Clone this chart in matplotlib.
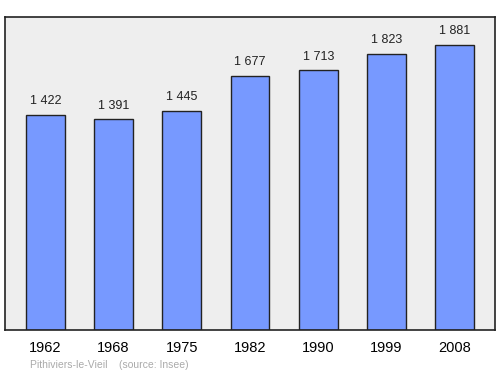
import matplotlib
matplotlib.use("Agg")
import matplotlib.pyplot as plt

years = ["1962", "1968", "1975", "1982", "1990", "1999", "2008"]
population = [1422, 1391, 1445, 1677, 1713, 1823, 1881]
value_labels = ["1 422", "1 391", "1 445", "1 677", "1 713", "1 823", "1 881"]
place = "Pithiviers-le-Vieil"
source = "(source: Insee)"

plt.rcParams['font.family'] = ['Liberation Sans', 'DejaVu Sans']

fig = plt.figure(figsize=(5, 3.74), dpi=100)
ax = fig.add_axes([0.01, 0.1176, 0.98, 0.837])
ax.set_facecolor('#eeeeee')

x = range(len(years))
ax.bar(x, population, width=0.57, color='#7799ff', edgecolor='#222222', linewidth=1)
for xi, v, lab in zip(x, population, value_labels):
    ax.text(xi, v + 50, lab, ha='center', va='bottom', fontsize=9, color='#222222')

ax.set_xlim(-0.59, 6.59)
ax.set_ylim(0, 2066)
ax.set_xticks(list(x))
ax.set_xticklabels(years, fontsize=10.5)
ax.tick_params(axis='x', length=0, pad=8)
ax.set_yticks([])
for s in ax.spines.values():
    s.set_linewidth(1.2)
    s.set_color('#222222')

fig.text(0.06, 0.015, place + "    " + source, fontsize=7.5, color='#aaaaaa')

fig.savefig("out.png", dpi=100)
